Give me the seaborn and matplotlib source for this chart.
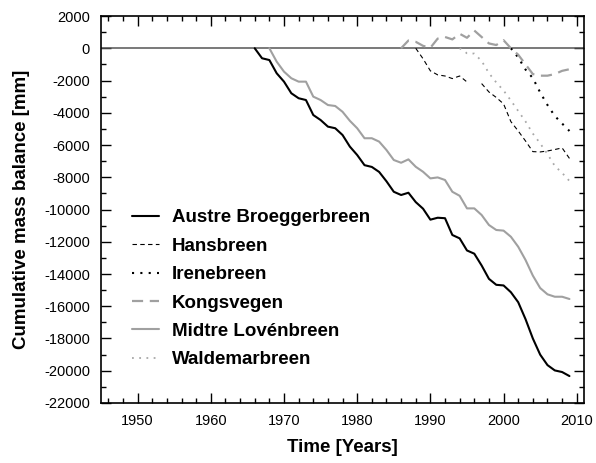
import numpy as np
import pandas as pd
import seaborn as sns
import matplotlib.pyplot as plt
from matplotlib.ticker import MultipleLocator

# ====================================
# DATA (cumulative mass balance, mm)
# ====================================

austre_years = list(range(1966, 2010))
austre_mb = [0, -620, -730, -1550, -2070, -2790, -3100, -3210, -4140, -4450,
             -4860, -4960, -5380, -6100, -6620, -7250, -7360, -7670, -8250, -8900,
             -9100, -8960, -9540, -9950, -10630, -10510, -10540, -11580, -11790, -12540,
             -12740, -13470, -14300, -14670, -14710, -15130, -15750, -16800, -18000, -19000,
             -19650, -19980, -20080, -20330]

hans_years = list(range(1988, 2010))
hans_mb = [0, -650, -1400, -1650, -1720, -1880, -1720, -2090, np.nan, -2190,
           -2710, -3050, -3450, -4550, -5130, -5750, -6410, -6430, -6370, -6280,
           -6180, -6830]

irene_years = list(range(2001, 2010))
irene_mb = [0, -570, -1320, -1850, -2740, -3520, -4200, -4670, -5130]

kongs_years = list(range(1986, 2010))
kongs_mb = [0, 480, 400, 150, 30, 600, 700, 550, 900, 650,
            1100, 700, 300, 200, 500, 0, -400, -1000, -1600, -1700,
            -1700, -1600, -1400, -1300]

midtre_years = list(range(1968, 2010))
midtre_mb = [0, -830, -1450, -1860, -2070, -2070, -3000, -3210, -3520, -3580,
             -3940, -4500, -4960, -5580, -5580, -5790, -6310, -6930, -7100, -6890,
             -7350, -7660, -8070, -8010, -8170, -8900, -9150, -9930, -9930, -10340,
             -10960, -11270, -11310, -11690, -12310, -13130, -14100, -14870, -15260, -15410,
             -15410, -15550]

walde_years = list(range(1994, 2010))
walde_mb = [0, -310, -330, -790, -1540, -2120, -2620, -3240, -3890, -4540,
            -5290, -5900, -6560, -7300, -7730, -8230]

glaciers = ['Austre Broeggerbreen', 'Hansbreen', 'Irenebreen',
            'Kongsvegen', 'Midtre Lovénbreen', 'Waldemarbreen']

series = [
    (glaciers[0], austre_years, austre_mb),
    (glaciers[1], hans_years, hans_mb),
    (glaciers[2], irene_years, irene_mb),
    (glaciers[3], kongs_years, kongs_mb),
    (glaciers[4], midtre_years, midtre_mb),
    (glaciers[5], walde_years, walde_mb),
]

# long form table, missing years split a series into segments
rows = []
for name, years, values in series:
    seg = 0
    for yr, v in zip(years, values):
        if np.isnan(v):
            seg += 1
            continue
        rows.append({'glacier': name, 'segment': f'{name}-{seg}', 'year': yr, 'mb': v})
df = pd.DataFrame(rows)

# ====================================
# STYLE
# ====================================

sns.set_style('ticks')
plt.rcParams['font.family'] = ['Liberation Sans', 'DejaVu Sans']
plt.rcParams['axes.unicode_minus'] = False
plt.rcParams['text.color'] = 'black'
plt.rcParams['axes.labelcolor'] = 'black'

palette = {
    'Austre Broeggerbreen': 'black',
    'Hansbreen': 'black',
    'Irenebreen': 'black',
    'Kongsvegen': '#a0a0a0',
    'Midtre Lovénbreen': '#a0a0a0',
    'Waldemarbreen': '#a8a8a8',
}
dashes = {
    'Austre Broeggerbreen': '',
    'Hansbreen': (4, 3),
    'Irenebreen': (1, 3),
    'Kongsvegen': (5, 3),
    'Midtre Lovénbreen': '',
    'Waldemarbreen': (1, 3),
}
sizes = {
    'Austre Broeggerbreen': 1.5,
    'Hansbreen': 0.8,
    'Irenebreen': 1.5,
    'Kongsvegen': 1.6,
    'Midtre Lovénbreen': 1.5,
    'Waldemarbreen': 1.3,
}

# ====================================
# PLOT
# ====================================

fig, ax = plt.subplots(figsize=(5.96, 4.63), dpi=100)
fig.subplots_adjust(left=0.1695, right=0.980, top=0.9654, bottom=0.1296)

ax.axhline(0, color='#555555', lw=1.1, zorder=1)

sns.lineplot(
    data=df, x='year', y='mb',
    hue='glacier', style='glacier', size='glacier',
    hue_order=glaciers, style_order=glaciers, size_order=glaciers,
    palette=palette, dashes=dashes, sizes=sizes,
    units='segment', estimator=None, sort=True, ax=ax
)

ax.set_xlim(1945, 2011)
ax.set_ylim(-22000, 2000)
ax.xaxis.set_major_locator(MultipleLocator(10))
ax.xaxis.set_minor_locator(MultipleLocator(2))
ax.yaxis.set_major_locator(MultipleLocator(2000))
ax.yaxis.set_minor_locator(MultipleLocator(1000))

ax.tick_params(which='both', direction='in', top=True, right=True,
               colors='black', labelsize=10.5, pad=8, width=1)
ax.tick_params(which='major', length=7)
ax.tick_params(which='minor', length=3.5)
for s in ax.spines.values():
    s.set_color('black')
    s.set_linewidth(1.2)

ax.set_xlabel('Time [Years]', fontsize=13.5, fontweight='bold', labelpad=8)
ax.set_ylabel('Cumulative mass balance [mm]', fontsize=13.5, fontweight='bold', labelpad=10)

handles, labels = ax.get_legend_handles_labels()
ax.legend(handles, labels, loc='upper left', bbox_to_anchor=(0.048, 0.52),
          frameon=False, borderaxespad=0, handlelength=1.45, handletextpad=0.7,
          labelspacing=0.6, prop={'size': 13.5, 'weight': 'bold'})

plt.savefig('out.png', dpi=100)
plt.close()
